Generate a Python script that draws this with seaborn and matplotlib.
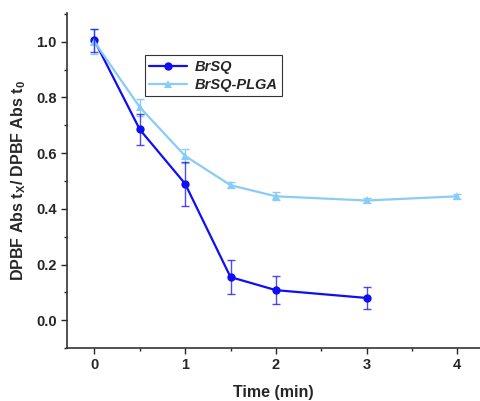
import numpy as np
import pandas as pd
import seaborn as sns
import matplotlib
matplotlib.use('Agg')
import matplotlib.pyplot as plt
from matplotlib.ticker import MultipleLocator

# data
time_brsq = [0, 0.5, 1, 1.5, 2, 3]
val_brsq = [1.005, 0.685, 0.49, 0.155, 0.108, 0.08]
err_brsq = [0.04, 0.055, 0.08, 0.06, 0.05, 0.038]

time_plga = [0, 0.5, 1, 1.5, 2, 3, 4]
val_plga = [1.0, 0.765, 0.59, 0.485, 0.445, 0.43, 0.445]
err_plga = [0.045, 0.03, 0.025, 0.01, 0.015, 0.01, 0.01]

x_ticks = [0, 1, 2, 3, 4]
y_ticks = [0.0, 0.2, 0.4, 0.6, 0.8, 1.0]

sns.set_style('ticks')
plt.rcParams['font.family'] = ['Liberation Sans', 'DejaVu Sans']
plt.rcParams['mathtext.fontset'] = 'custom'
plt.rcParams['mathtext.bf'] = 'Liberation Sans:bold'
plt.rcParams['mathtext.rm'] = 'Liberation Sans:bold'
plt.rcParams['mathtext.it'] = 'Liberation Sans:bold'

df = pd.concat([
    pd.DataFrame({'Time': time_brsq, 'Value': val_brsq, 'Sample': 'BrSQ'}),
    pd.DataFrame({'Time': time_plga, 'Value': val_plga, 'Sample': 'BrSQ-PLGA'}),
])

dark = '#0f0ff5'
light = '#88ccf8'

fig = plt.figure(figsize=(4.8, 4.01), dpi=100)
ax = fig.add_axes([0.140, 0.132, 0.86, 0.836])

sns.lineplot(data=df, x='Time', y='Value', hue='Sample', style='Sample',
             markers={'BrSQ': 'o', 'BrSQ-PLGA': '^'}, dashes=False,
             palette={'BrSQ': dark, 'BrSQ-PLGA': light},
             markersize=6, markeredgewidth=0, linewidth=1.6, ax=ax)

ax.errorbar(time_plga, val_plga, yerr=err_plga, fmt='none', ecolor=light,
            elinewidth=1, capsize=3, capthick=1, zorder=1)
ax.errorbar(time_brsq, val_brsq, yerr=err_brsq, fmt='none', ecolor=dark,
            elinewidth=1, capsize=3, capthick=1, alpha=0.75, zorder=3)

ax.set_xlim(-0.3, 4.25)
ax.set_ylim(-0.1, 1.104)
ax.set_xticks(x_ticks)
ax.set_yticks(y_ticks)
ax.set_yticklabels([f'{v:.1f}' for v in y_ticks])
ax.xaxis.set_minor_locator(MultipleLocator(0.5))
ax.yaxis.set_minor_locator(MultipleLocator(0.1))
ax.tick_params(which='major', length=4, width=1, labelsize=10.5)
ax.tick_params(which='minor', length=2.5, width=1)
for lab in ax.get_xticklabels() + ax.get_yticklabels():
    lab.set_fontweight('bold')

sns.despine(ax=ax)
for s in ['left', 'bottom']:
    ax.spines[s].set_linewidth(1.2)
    ax.spines[s].set_color('#333333')

ax.set_xlabel('Time (min)', fontsize=11.5, fontweight='bold', labelpad=9)
ax.set_ylabel(r'DPBF Abs t$_\mathbf{X}$/ DPBF Abs t$_\mathbf{0}$',
              fontsize=11.5, fontweight='bold', labelpad=6)

leg = ax.legend(loc='upper left', bbox_to_anchor=(0.17, 0.895), frameon=True,
                fancybox=False, edgecolor='black', handlelength=2.6,
                borderpad=0.3, labelspacing=0.3, handletextpad=0.5,
                prop={'weight': 'bold', 'style': 'italic', 'size': 10.5})
leg.get_frame().set_linewidth(0.8)

fig.savefig('out.png', dpi=100)
